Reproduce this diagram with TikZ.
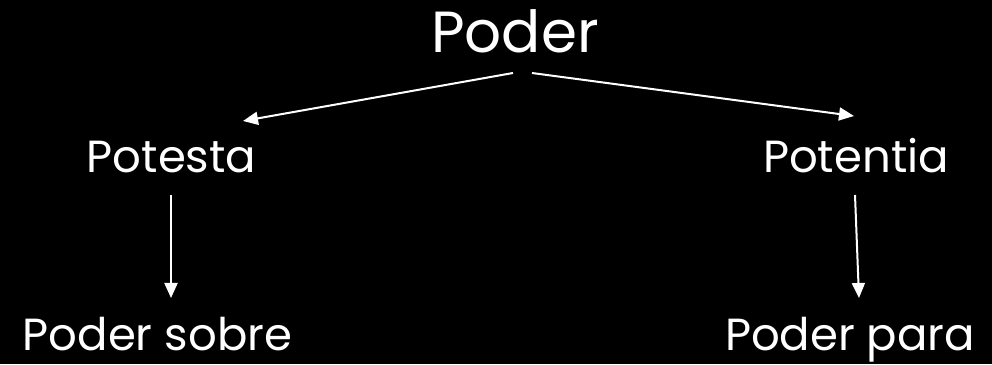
\documentclass[tikz,border=0pt]{standalone}
\usepackage{fontspec}
\setmainfont{Poppins}
\usetikzlibrary{arrows.meta}
\begin{document}
\begin{tikzpicture}[x=1pt,y=1pt,
  lbl/.style={text=white, anchor=base, inner sep=0pt},
  big/.style={lbl, font=\fontsize{58}{62}\selectfont},
  mid/.style={lbl, font=\fontsize{45}{50}\selectfont},
  arr/.style={draw=white, line width=2pt, -{Triangle[length=15pt,width=13pt]}}]
\fill[black] (0,0) rectangle (992,364);
\useasboundingbox (0,0) rectangle (992,364);
\node[big] (poder) at (515,311) {Poder};
\node[mid] (potesta) at (171.5,191) {Potesta};
\node[mid] (potentia) at (856,191) {Potentia};
\node[mid] (sobre) at (157.5,14) {Poder sobre};
\node[mid] (para) at (850,14) {Poder para};
\coordinate (a1s) at (513,291);
\coordinate (a1e) at (243,243);
\coordinate (a2s) at (532,291);
\coordinate (a2e) at (854,248);
\coordinate (a3s) at (171,169);
\coordinate (a3e) at (171,66);
\coordinate (a4s) at (855,169);
\coordinate (a4e) at (859,66);
\draw[arr] (a1s) -- (a1e);
\draw[arr] (a2s) -- (a2e);
\draw[arr] (a3s) -- (a3e);
\draw[arr] (a4s) -- (a4e);
\end{tikzpicture}
\end{document}
